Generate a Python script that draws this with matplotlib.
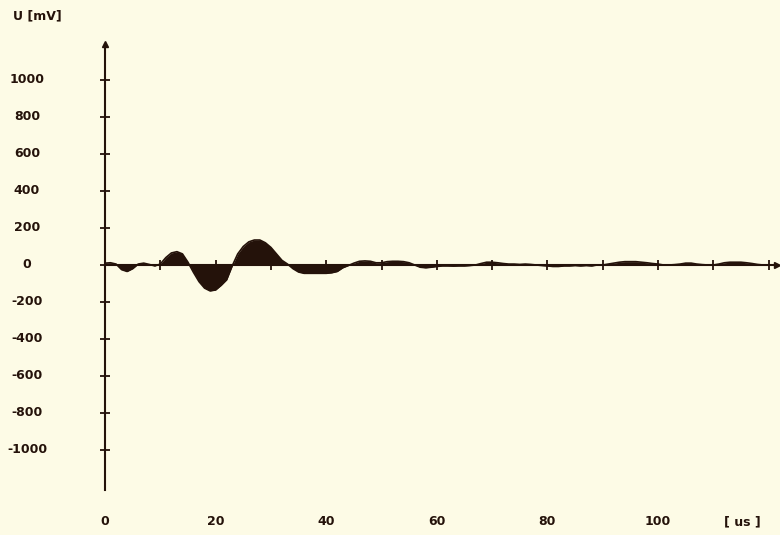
import matplotlib.pyplot as plt
from matplotlib import font_manager
import numpy as np

# signal, one sample per microsecond
time_us = np.arange(0, 121)
volt_mv = [
    10, 12, 5, -25, -35, -20, 5, 10, 3, -5,
    5, 40, 65, 72, 60, 15, -40, -90, -125, -140,
    -135, -110, -80, -5, 60, 100, 125, 135, 135, 120,
    95, 60, 25, 5, -20, -38, -45, -45, -45, -45,
    -45, -42, -35, -15, -3, 10, 20, 22, 20, 12,
    12, 18, 20, 20, 18, 12, 0, -12, -15, -12,
    -8, -5, -5, -6, -5, -5, -3, 0, 8, 15,
    15, 12, 8, 5, 5, 3, 5, 3, 0, -3,
    -5, -8, -8, -5, -5, -3, -5, -3, -5, 0,
    0, 5, 10, 15, 18, 18, 18, 15, 12, 8,
    5, 0, 0, 2, 5, 10, 10, 5, 2, 0,
    0, 5, 12, 15, 15, 15, 12, 8, 3, 0,
    0,
]

x_ticks = np.arange(10, 121, 10)
x_labels = [0, 20, 40, 60, 80, 100]
y_ticks = np.arange(-1000, 1001, 200)

bg = '#fdfbe6'
ink = '#24120a'

# narrow bold font like the printer's, if one is around
names = {f.name for f in font_manager.fontManager.ttflist}
if 'DejaVu Sans Condensed' in names:
    fam, fsize = 'DejaVu Sans Condensed', 10
elif 'Liberation Sans Narrow' in names:
    fam, fsize = 'Liberation Sans Narrow', 10.5
else:
    fam, fsize = 'DejaVu Sans', 9

fig = plt.figure(figsize=(7.8, 5.35), dpi=100, facecolor=bg)
ax = fig.add_axes([0, 0, 1, 1], facecolor=bg)
ax.set_xlim(-18.99, 122.06)
ax.set_ylim(-1459.5, 1432.4)

ax.fill_between(time_us, volt_mv, 0, color=ink, lw=0)
ax.plot(time_us, volt_mv, color=ink, lw=1.2)

for side in ['top', 'right']:
    ax.spines[side].set_visible(False)
ax.spines['left'].set_position(('data', 0))
ax.spines['bottom'].set_position(('data', 0))
ax.spines['left'].set_bounds(-1216, 1195)
ax.spines['bottom'].set_bounds(0, 121)
for side in ['left', 'bottom']:
    ax.spines[side].set_color(ink)
    ax.spines[side].set_linewidth(1.5)

# arrow heads at the axis ends
ax.plot(0, 1195, marker='^', ms=5, color=ink, clip_on=False)
ax.plot(121.5, 0, marker='>', ms=5, color=ink, clip_on=False)

ax.set_xticks(x_ticks)
ax.set_yticks(y_ticks)
ax.tick_params(direction='inout', length=7, width=1.3, colors=ink,
               labelleft=False, labelbottom=False)

font = dict(color=ink, fontsize=fsize, fontweight='bold', family=fam)
for v in y_ticks:
    ax.text(-14.1, v, str(v), ha='center', va='center', **font)
for t in x_labels:
    ax.text(t, -1389, str(t), ha='center', va='center', **font)
ax.text(115.2, -1389, '[ us ]', ha='center', va='center', **font)
ax.text(-12.3, 1345, 'U [mV]', ha='center', va='center', **font)

fig.savefig('out.png', dpi=100, facecolor=bg)
